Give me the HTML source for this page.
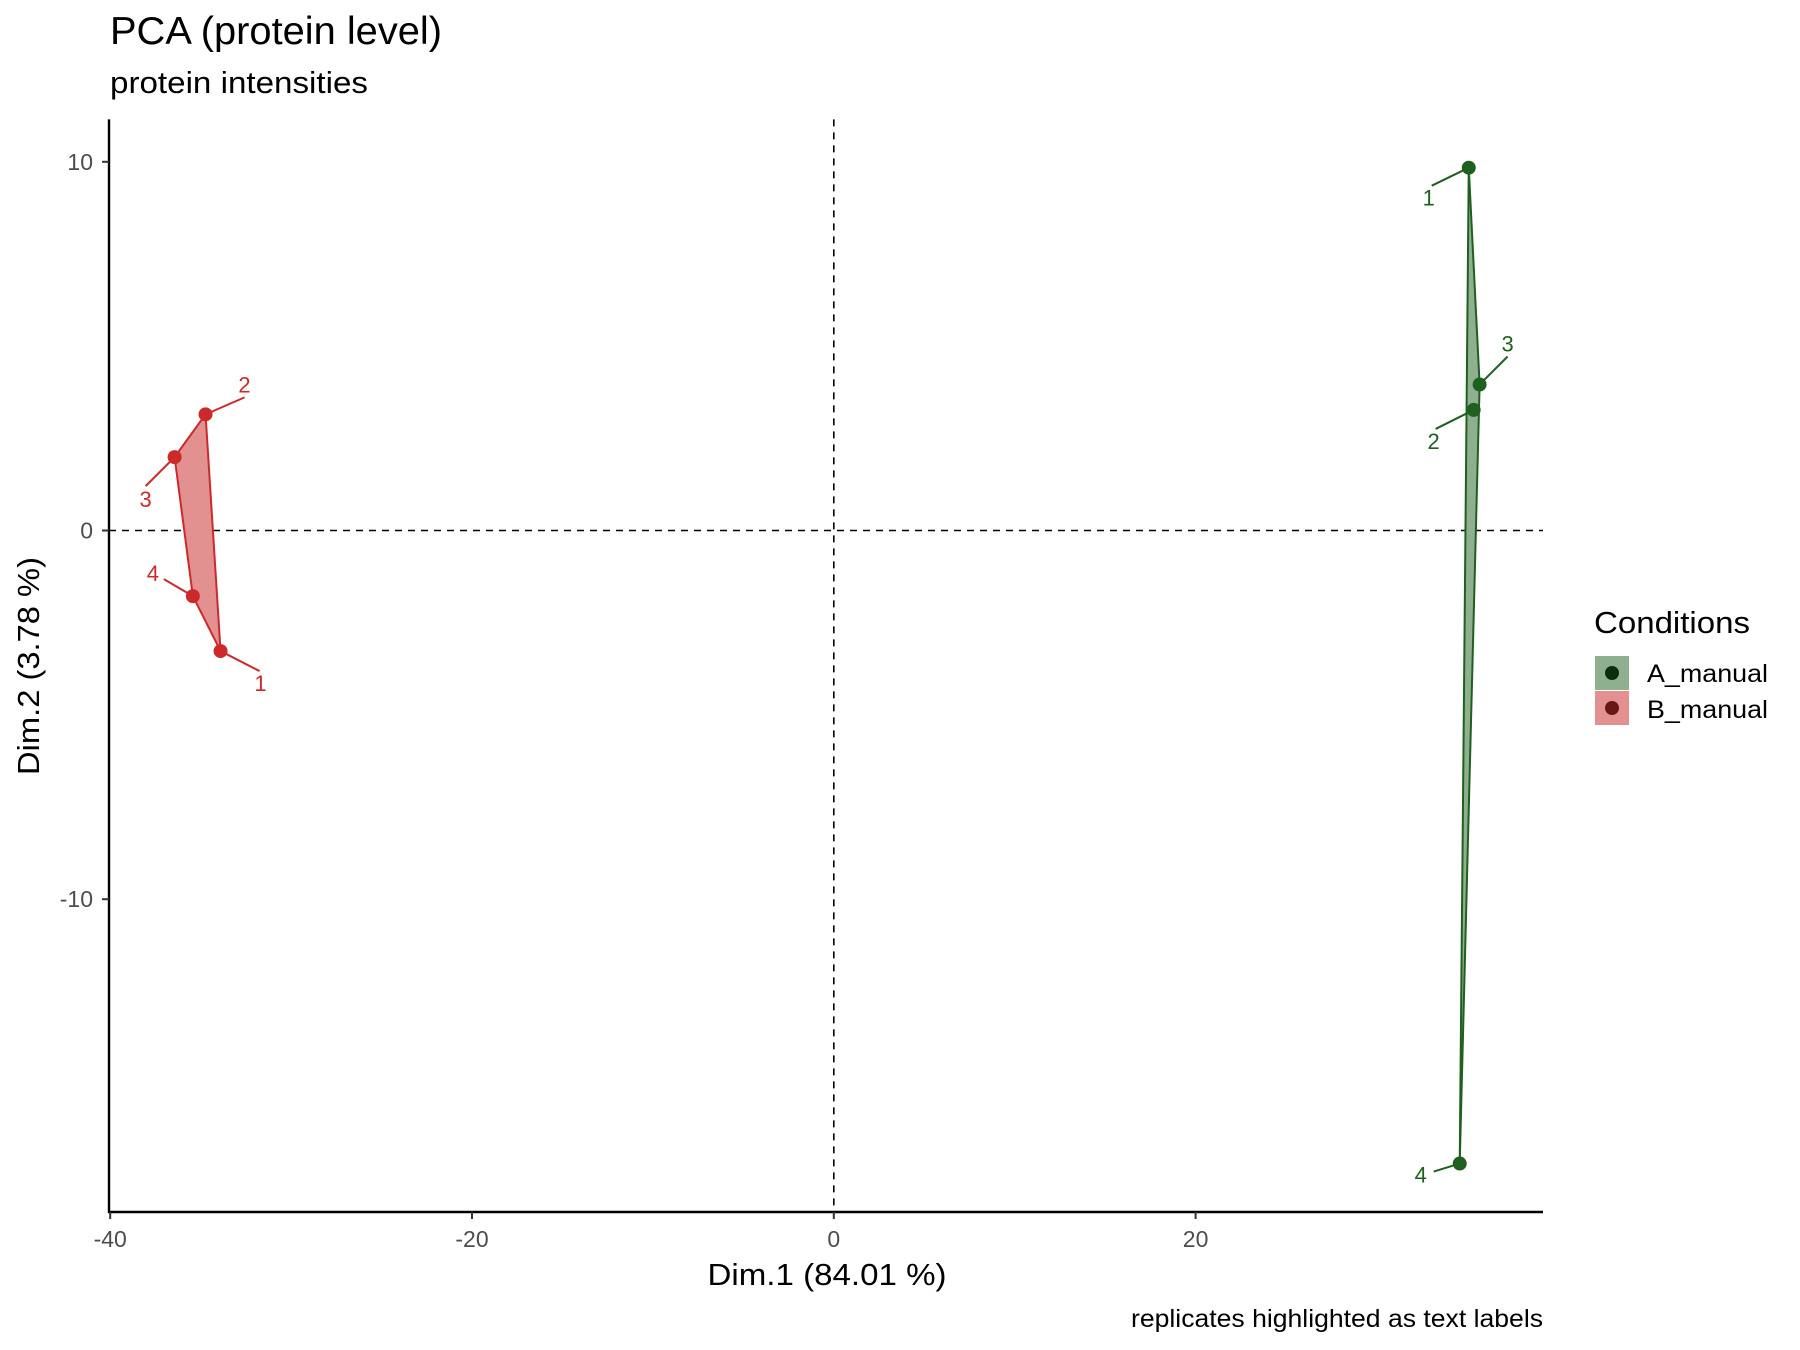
<!DOCTYPE html>
<html><head><meta charset="utf-8"><style>
html,body{margin:0;padding:0;background:#fff;}
svg{display:block;font-family:"Liberation Sans",Arial,sans-serif;}
</style></head><body>
<svg id="chart" width="1800" height="1350" viewBox="0 0 1800 1350" xmlns="http://www.w3.org/2000/svg">
<text x="110" y="44" font-size="39" textLength="332" lengthAdjust="spacingAndGlyphs" fill="#000">PCA (protein level)</text>
<text x="110" y="93" font-size="31" textLength="258" lengthAdjust="spacingAndGlyphs" fill="#000">protein intensities</text>
<g id="plot"></g>
<text x="827" y="1285" font-size="31" textLength="239" lengthAdjust="spacingAndGlyphs" text-anchor="middle" fill="#000">Dim.1 (84.01 %)</text>
<text transform="translate(39,666) rotate(-90)" font-size="31" textLength="218" lengthAdjust="spacingAndGlyphs" text-anchor="middle" fill="#000">Dim.2 (3.78 %)</text>
<text x="1543" y="1327" font-size="25" textLength="412" lengthAdjust="spacingAndGlyphs" text-anchor="end" fill="#000">replicates highlighted as text labels</text>
<g>
<text x="1594" y="633" font-size="31" textLength="156" lengthAdjust="spacingAndGlyphs" fill="#000">Conditions</text>
<g>
<rect x="1595" y="656" width="34" height="34" fill="#8fb08f"/>
<circle cx="1612" cy="673" r="7" fill="#0d2e0d"/>
<text x="1647" y="682" font-size="25" textLength="121" lengthAdjust="spacingAndGlyphs" fill="#000">A_manual</text></g>
<g>
<rect x="1595" y="691" width="34" height="34" fill="#e29090"/>
<circle cx="1612" cy="708" r="7" fill="#6b1616"/>
<text x="1647" y="718" font-size="25" textLength="121" lengthAdjust="spacingAndGlyphs" fill="#000">B_manual</text></g>
</g>
</svg>
<script>
const groups = ["A_manual","B_manual"];
const replicates = ["1","2","3","4"];
const dim1A = [35.1, 35.37, 35.7, 34.6];
const dim2A = [9.84, 3.27, 3.96, -17.17];
const dim1B = [-33.9, -34.73, -36.44, -35.43];
const dim2B = [-3.27, 3.15, 1.99, -1.78];
const xTicks = [-40, -20, 0, 20];
const yTicks = [10, 0, -10];

const NS = "http://www.w3.org/2000/svg";
const L = 109, R = 1543, T = 119.4, B = 1212;
const xs = v => 833.8 + v * 18.09;
const ys = v => 530.5 + (-v) * 36.87;
const plot = document.getElementById('plot');
function mk(tag, attrs, parent) {
  const e = document.createElementNS(NS, tag);
  for (const k in attrs) e.setAttribute(k, attrs[k]);
  (parent || plot).appendChild(e);
  return e;
}
let e = mk('line', {x1: xs(0), x2: xs(0), y1: T, y2: B, stroke: '#000', 'stroke-width': 1.6, 'stroke-dasharray': '7,6'});


e = mk('line', {x1: L, x2: R, y1: ys(0), y2: ys(0), stroke: '#000', 'stroke-width': 1.6, 'stroke-dasharray': '7,6'});



function hull(pts) {
  const p = pts.slice().sort((a, b) => a[0] - b[0] || a[1] - b[1]);
  const cr = (o, a, b) => (a[0]-o[0])*(b[1]-o[1]) - (a[1]-o[1])*(b[0]-o[0]);
  const lo = [], up = [];
  for (const q of p) { while (lo.length >= 2 && cr(lo[lo.length-2], lo[lo.length-1], q) <= 0) lo.pop(); lo.push(q); }
  for (const q of p.slice().reverse()) { while (up.length >= 2 && cr(up[up.length-2], up[up.length-1], q) <= 0) up.pop(); up.push(q); }
  return lo.slice(0, -1).concat(up.slice(0, -1));
}
const series = [
  {x: dim1A, y: dim2A, stroke: '#1f5f1f', fill: '#8fb08f', key: 'a',
   off: [[-37,18,-40,38],[-38,19,-40,39],[28,-28,28,-33],[-26,8,-39,19]]},
  {x: dim1B, y: dim2B, stroke: '#cc2a2a', fill: '#e29090', key: 'b',
   off: [[39,20,40,40],[39,-17,39,-22],[-29,29,-29,50],[-29,-17,-40,-15]]}
];
for (const s of series) {
  const pts = s.x.map((v, i) => [xs(v), ys(s.y[i])]);
  const h = hull(pts);
  e = mk('polygon', {points: h.map(p => p.join(',')).join(' '), fill: s.fill, stroke: s.stroke, 'stroke-width': 2});
  
  
  pts.forEach((p, i) => {
    const o = s.off[i];
    e = mk('line', {x1: p[0], y1: p[1], x2: p[0] + o[0], y2: p[1] + o[1], stroke: s.stroke, 'stroke-width': 2});
    
    
    e = mk('circle', {cx: p[0], cy: p[1], r: 7, fill: s.stroke});
    
    
    e = mk('text', {x: p[0] + o[2], y: p[1] + o[3], 'font-size': 22, fill: s.stroke, 'text-anchor': 'middle'});
    e.textContent = replicates[i];
    
    
  });
}
e = mk('line', {x1: L, x2: L, y1: T, y2: B + 1, stroke: '#000', 'stroke-width': 2.4});


e = mk('line', {x1: L - 1, x2: R, y1: B, y2: B, stroke: '#000', 'stroke-width': 2.4});


for (const t of xTicks) {
  e = mk('line', {x1: xs(t), x2: xs(t), y1: B, y2: B + 7, stroke: '#333', 'stroke-width': 2});
  
  
  e = mk('text', {x: xs(t), y: 1247, 'font-size': 23, fill: '#4d4d4d', 'text-anchor': 'middle'});
  e.textContent = t;
  
  
}
for (const t of yTicks) {
  e = mk('line', {x1: L - 7, x2: L, y1: ys(t), y2: ys(t), stroke: '#333', 'stroke-width': 2});
  
  
  e = mk('text', {x: L - 16, y: ys(t) + 8, 'font-size': 23, fill: '#4d4d4d', 'text-anchor': 'end'});
  e.textContent = t;
  
  
}
</script>
</body></html>
